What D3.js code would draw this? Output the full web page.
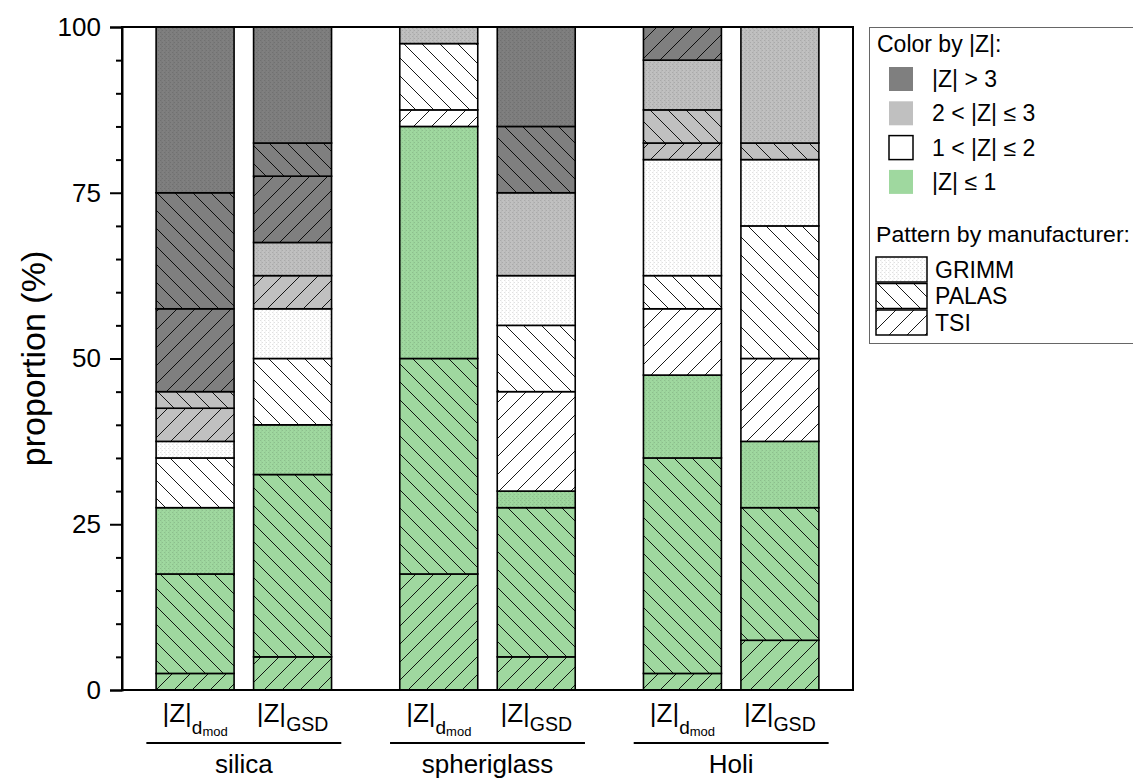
<!DOCTYPE html>
<html><head><meta charset="utf-8">
<script src="https://cdn.jsdelivr.net/npm/d3@7"></script>
<style>
html,body{margin:0;padding:0;background:#fff;}
svg{display:block;font-family:"Liberation Sans",Arial,sans-serif;}
</style></head>
<body>
<svg id="chart" width="1133" height="780"></svg>
<script>
// ---------------- data ----------------
const groups = ["silica", "spheriglass", "Holi"];
const methods = ["dmod", "GSD"];            // per group: |Z|_dmod, |Z|_GSD
const manufacturers = ["TSI", "PALAS", "GRIMM"];
const zLevels = ["|Z| ≤ 1", "1 < |Z| ≤ 2", "2 < |Z| ≤ 3", "|Z| > 3"];
const yTicks = [0, 25, 50, 75, 100];

// bar order: silica dmod, silica GSD, spheriglass dmod, spheriglass GSD, Holi dmod, Holi GSD
const z1_TSI   = [2.5, 5,    17.5, 5,    2.5,  7.5];
const z1_PALAS = [15,  27.5, 32.5, 22.5, 32.5, 20];
const z1_GRIMM = [10,  7.5,  35,   2.5,  12.5, 10];
const z2_TSI   = [0,   0,    2.5,  15,   10,   12.5];
const z2_PALAS = [7.5, 10,   10,   10,   5,    20];
const z2_GRIMM = [2.5, 7.5,  0,    7.5,  17.5, 10];
const z3_TSI   = [5,   5,    0,    0,    2.5,  0];
const z3_PALAS = [2.5, 0,    0,    0,    5,    2.5];
const z3_GRIMM = [0,   5,    2.5,  12.5, 7.5,  17.5];
const z4_TSI   = [12.5, 10,  0,    0,    5,    0];
const z4_PALAS = [17.5, 5,   0,    10,   0,    0];
const z4_GRIMM = [25,  17.5, 0,    15,   0,    0];

const seriesValues = {
  "0-TSI": z1_TSI, "0-PALAS": z1_PALAS, "0-GRIMM": z1_GRIMM,
  "1-TSI": z2_TSI, "1-PALAS": z2_PALAS, "1-GRIMM": z2_GRIMM,
  "2-TSI": z3_TSI, "2-PALAS": z3_PALAS, "2-GRIMM": z3_GRIMM,
  "3-TSI": z4_TSI, "3-PALAS": z4_PALAS, "3-GRIMM": z4_GRIMM
};
const zColors = ["#9fd89f", "#ffffff", "#c0c0c0", "#7f7f7f"];

// ---------------- build table ----------------
const keys = [];
zLevels.forEach((z, zi) => manufacturers.forEach(m => keys.push(`${zi}-${m}`)));
const table = [];
groups.forEach((g, gi) => methods.forEach((me, mi) => {
  const idx = gi * methods.length + mi;
  const row = { group: g, method: me, pos: gi * 2.5 + mi + 1 };
  keys.forEach(k => row[k] = seriesValues[k][idx]);
  table.push(row);
}));
const stacked = d3.stack().keys(keys)(table);

// ---------------- layout ----------------
const svg = d3.select("#chart");
const L = 122, R = 853, T = 27, B = 690;
const x = d3.scaleLinear().domain([0.25, 7.75]).range([L, R]);
const y = d3.scaleLinear().domain([0, 100]).range([B, T]);
const barW = x(0.8) - x(0);

// ---------------- patterns ----------------
const defs = svg.append("defs");
function makePattern(id, color, man) {
  const s = 18;
  const p = defs.append("pattern").attr("id", id)
    .attr("patternUnits", "userSpaceOnUse").attr("width", man === "GRIMM" ? 4 : s).attr("height", man === "GRIMM" ? 4 : s);
  if (man === "GRIMM") {
    p.append("rect").attr("width", 4).attr("height", 4).attr("fill", color);
    p.append("rect").attr("x", 0).attr("y", 0).attr("width", 1).attr("height", 1).attr("fill", "rgba(0,0,0,0.12)");
    p.append("rect").attr("x", 2).attr("y", 2).attr("width", 1).attr("height", 1).attr("fill", "rgba(0,0,0,0.12)");
    p.append("rect").attr("x", 1).attr("y", 0).attr("width", 1).attr("height", 4).attr("fill", "rgba(0,0,0,0.04)");
  } else {
    p.append("rect").attr("width", s).attr("height", s).attr("fill", color);
    const d = man === "PALAS"
      ? `M0,0L${s},${s}M${-s/2},${s/2}L${s/2},${1.5*s}M${s/2},${-s/2}L${1.5*s},${s/2}`
      : `M0,${s}L${s},0M${-s/2},${s/2}L${s/2},${-s/2}M${s/2},${1.5*s}L${1.5*s},${s/2}`;
    p.append("path").attr("d", d).attr("stroke", "#000").attr("stroke-width", 0.9).attr("fill", "none");
  }
}
zColors.forEach((c, zi) => manufacturers.forEach(m => makePattern(`p${zi}-${m}`, c, m)));
manufacturers.forEach(m => makePattern(`leg-${m}`, "#ffffff", m));

// ---------------- bars ----------------
const gBars = svg.append("g");
stacked.forEach(layer => {
  gBars.append("g").selectAll("rect")
    .data(layer.filter(d => d[1] - d[0] > 0))
    .join("rect")
    .attr("x", d => x(d.data.pos) - barW / 2)
    .attr("width", barW)
    .attr("y", d => y(d[1]))
    .attr("height", d => y(d[0]) - y(d[1]))
    .attr("fill", `url(#p${layer.key})`)
    .attr("stroke", "#000")
    .attr("stroke-width", 1.6);
});

// ---------------- frame & axes ----------------
svg.append("rect").attr("x", L).attr("y", T).attr("width", R - L).attr("height", B - T)
  .attr("fill", "none").attr("stroke", "#000").attr("stroke-width", 2);

const yAxis = svg.append("g").attr("transform", `translate(${L},0)`)
  .call(d3.axisLeft(y).tickValues(yTicks).tickSize(12).tickPadding(9).tickFormat(d3.format("d")));
yAxis.select(".domain").attr("stroke-width", 2);
yAxis.selectAll(".tick line").attr("stroke-width", 2);
yAxis.selectAll("text").attr("font-size", 26).attr("font-family", "Liberation Sans, Arial, sans-serif").attr("fill", "#000");

const minor = d3.range(0, 101, 5).filter(v => v % 25 !== 0);
const yMinor = svg.append("g").attr("transform", `translate(${L},0)`)
  .call(d3.axisLeft(y).tickValues(minor).tickSize(6).tickFormat(""));
yMinor.select(".domain").remove();
yMinor.selectAll(".tick line").attr("stroke-width", 2);

svg.append("text")
  .attr("transform", `translate(36,${(T + B) / 2}) rotate(-90)`)
  .attr("text-anchor", "middle").attr("dominant-baseline", "middle")
  .attr("font-size", 34).text("proportion (%)");

// ---------------- x labels ----------------
const xl = svg.append("g");
table.forEach(row => {
  const t = xl.append("text").attr("x", x(row.pos)).attr("y", 722)
    .attr("text-anchor", "middle").attr("font-size", 26);
  t.append("tspan").text("|Z|");
  if (row.method === "dmod") {
    t.append("tspan").attr("font-size", 19).attr("dy", 12).text("d");
    t.append("tspan").attr("font-size", 13).attr("dy", 2).text("mod");
  } else {
    t.append("tspan").attr("font-size", 19.5).attr("dy", 9).text("GSD");
  }
});
groups.forEach((g, gi) => {
  const c = x(gi * 2.5 + 1.5);
  xl.append("line").attr("x1", x(gi * 2.5 + 0.5)).attr("x2", x(gi * 2.5 + 2.5))
    .attr("y1", 743).attr("y2", 743).attr("stroke", "#000").attr("stroke-width", 2);
  xl.append("text").attr("x", c).attr("y", 773).attr("text-anchor", "middle")
    .attr("font-size", 26).text(g);
});

// ---------------- legend ----------------
const lg = svg.append("g");
lg.append("rect").attr("x", 869.5).attr("y", 27.5).attr("width", 300).attr("height", 316)
  .attr("fill", "#fff").attr("stroke", "#666").attr("stroke-width", 1);
lg.append("text").attr("x", 877).attr("y", 52).attr("font-size", 23).text("Color by |Z|:");
const legZ = [3, 2, 1, 0];
legZ.forEach((zi, i) => {
  const cy = 79 + i * 34.3;
  lg.append("rect").attr("x", 889).attr("y", cy - 12).attr("width", 24).attr("height", 24)
    .attr("fill", zColors[zi]).attr("stroke", zi === 1 ? "#000" : "none").attr("stroke-width", 1.5);
  lg.append("text").attr("x", 932).attr("y", cy).attr("dominant-baseline", "central")
    .attr("font-size", 23).text(zLevels[zi]);
});
lg.append("text").attr("x", 876).attr("y", 242).attr("font-size", 22.8).attr("textLength", 254)
  .attr("lengthAdjust", "spacingAndGlyphs").text("Pattern by manufacturer:");
["GRIMM", "PALAS", "TSI"].forEach((m, i) => {
  const top = 257 + i * 26.5;
  lg.append("rect").attr("x", 876).attr("y", top).attr("width", 51).attr("height", 25)
    .attr("fill", `url(#leg-${m})`).attr("stroke", "#000").attr("stroke-width", 1.5);
  lg.append("text").attr("x", 935).attr("y", top + 12.5).attr("dominant-baseline", "central")
    .attr("font-size", 23).text(m);
});
</script>
</body></html>
